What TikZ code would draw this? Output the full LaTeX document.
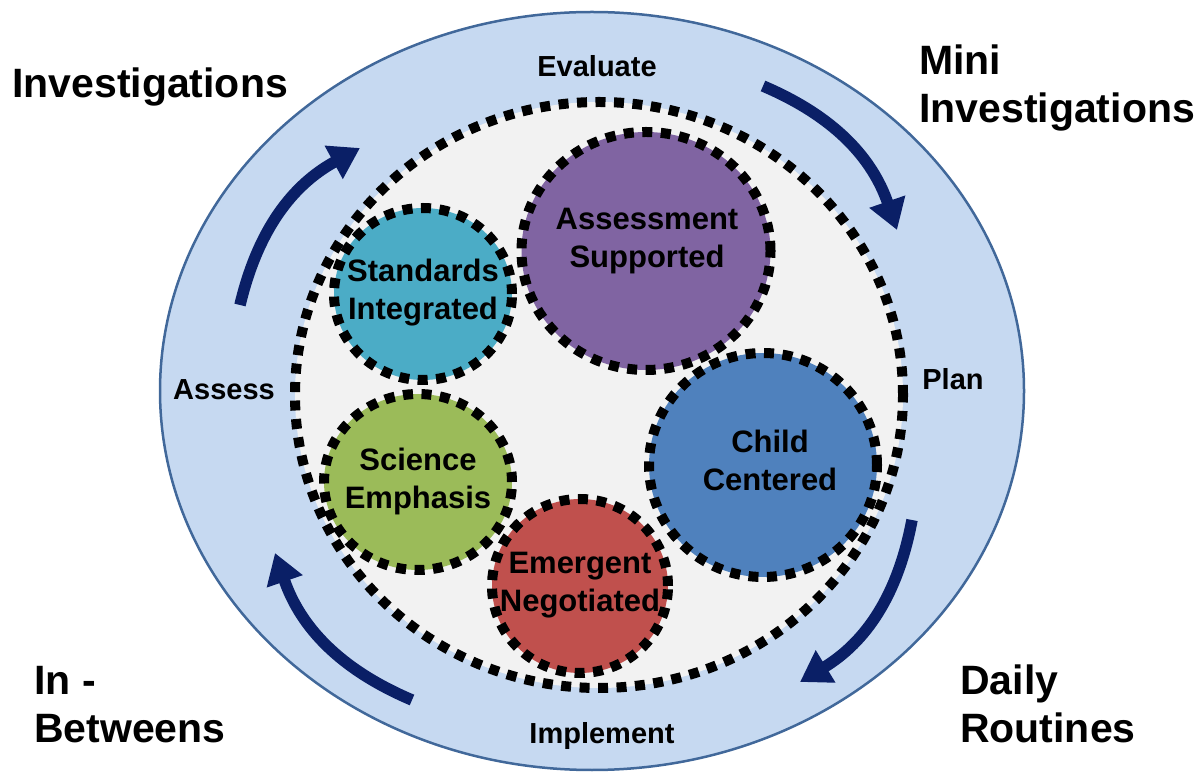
\documentclass[tikz,border=0pt]{standalone}
\usepackage{fontspec}
\setmainfont{Liberation Sans}
\usetikzlibrary{arrows.meta,shapes.geometric}
\definecolor{outerfill}{HTML}{C6D9F1}
\definecolor{outerline}{HTML}{41689A}
\definecolor{innerfill}{HTML}{F2F2F2}
\definecolor{cpurple}{HTML}{8064A2}
\definecolor{cteal}{HTML}{4BACC6}
\definecolor{cgreen}{HTML}{9BBB59}
\definecolor{cred}{HTML}{C0504D}
\definecolor{cblue}{HTML}{4F81BD}
\definecolor{navy}{HTML}{0A1F66}
\begin{document}
\begin{tikzpicture}[x=1pt,y=1pt,
  big/.style={font=\fontsize{41}{48}\selectfont\bfseries, inner sep=0pt, align=left},
  small/.style={font=\fontsize{29}{34}\selectfont\bfseries, inner sep=0pt},
  ctext/.style={font=\fontsize{31}{38}\selectfont\bfseries, inner sep=0pt, align=center},
  dotline/.style={draw=black, line width=10pt, dash pattern=on 10pt off 8.5pt},
  blob/.style={ellipse, dotline, inner sep=0pt},
  cyc/.style={draw=navy, line width=11.5pt, -{Triangle[length=30pt,width=36pt]}, bend left=24}]
\useasboundingbox (0,0) rectangle (1201,779);
\begin{scope}
\clip (0,0) rectangle (1201,779);
\path[fill=outerfill, draw=outerline, line width=2.5pt] (592,388) ellipse [x radius=432, y radius=379];
\end{scope}
% arrows
\coordinate (a1s) at (240,474); \coordinate (a1e) at (360,631);
\coordinate (a2s) at (763,693); \coordinate (a2e) at (897,549);
\coordinate (a3s) at (912,259); \coordinate (a3e) at (800,97);
\coordinate (a4s) at (412,79);  \coordinate (a4e) at (275,226);
\draw[cyc] (a1s) to (a1e);
\draw[cyc] (a2s) to (a2e);
\draw[cyc] (a3s) to (a3e);
\draw[cyc] (a4s) to (a4e);
% inner dotted ellipse
\node[blob, fill=innerfill, minimum width=608, minimum height=586] (inner) at (599,384) {};
% circles
\node[blob, fill=cpurple, minimum width=249, minimum height=238] (asup) at (646,528) {};
\node[blob, fill=cteal, minimum width=178, minimum height=172] (stan) at (423,485) {};
\node[blob, fill=cgreen, minimum width=188, minimum height=176] (sci) at (418,297) {};
\node[blob, fill=cred, minimum width=176, minimum height=174] (emer) at (580,193) {};
\node[blob, fill=cblue, minimum width=228, minimum height=224] (child) at (763,314) {};
% circle texts
\node[ctext] (asupt) at (647,538) {Assessment\\Supported};
\node[ctext] (stant) at (423,486) {Standards\\Integrated};
\node[ctext] (scit) at (418,298) {Science\\Emphasis};
\node[ctext] (emert) at (580,194) {Emergent\\Negotiated};
\node[ctext] (childt) at (770,319) {Child\\Centered};
% small labels
\node[small, anchor=base] (eval) at (597,702) {Evaluate};
\node[small, anchor=base] (assess) at (224,379) {Assess};
\node[small, anchor=base] (plan) at (953,389) {Plan};
\node[small, anchor=base] (impl) at (602,36) {Implement};
% big labels (base anchor = last line's baseline)
\node[big, anchor=base west] (inv) at (12,681) {Investigations};
\node[big, anchor=base west] (mini) at (919,656) {Mini\\Investigations};
\node[big, anchor=base west] (inb) at (34,37) {In -\\Betweens};
\node[big, anchor=base west] (daily) at (960,37) {Daily\\Routines};
\end{tikzpicture}
\end{document}
